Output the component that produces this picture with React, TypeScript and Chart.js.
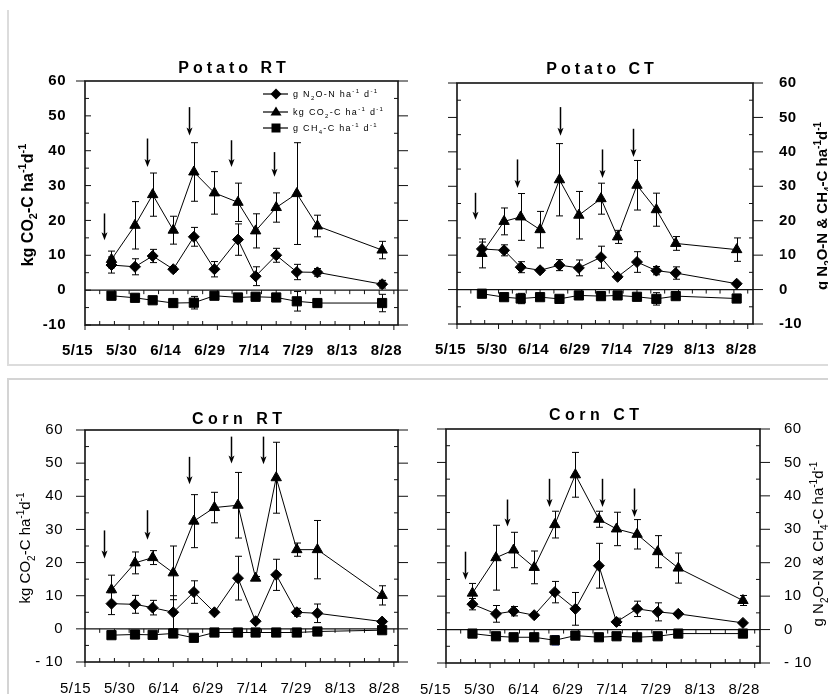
import React, { useEffect, useRef } from 'react';
import { Chart, registerables } from 'chart.js';

Chart.register(...registerables);

const FONT = "'Liberation Sans', Arial, Helvetica, sans-serif";

// ---------- data ----------
const sampleDates = ['5/24', '6/1', '6/7', '6/14', '6/21', '6/28', '7/6', '7/12', '7/19', '7/26', '8/2', '8/24'];
const xTickLabels = ['5/15', '5/30', '6/14', '6/29', '7/14', '7/29', '8/13', '8/28'];
const yTickValues = [-10, 0, 10, 20, 30, 40, 50, 60];

// Potato RT
const potatoRtN2o = [7.2, 6.7, 9.8, 6.0, 15.3, 6.0, 14.5, 4.0, 10.0, 5.2, 5.1, 1.7];
const potatoRtN2oErr = [2.3, 2.3, 1.9, 0.7, 2.7, 2.2, 4.5, 2.7, 2.0, 2.2, 1.1, 1.1];
const potatoRtCo2 = [8.8, 18.6, 27.4, 17.2, 33.9, 27.9, 25.2, 17.0, 23.7, 27.7, 18.4, 11.5];
const potatoRtCo2Err = [2.4, 6.8, 6.2, 4.0, 8.4, 6.1, 5.5, 4.9, 4.2, 14.6, 3.1, 2.5];
const potatoRtCh4 = [-1.6, -2.2, -2.9, -3.7, -3.6, -1.6, -2.1, -1.9, -2.1, -3.2, -3.7, -3.7];
const potatoRtCh4Err = [0.3, 0.3, 0.4, 1.0, 1.8, 0.3, 0.3, 0.4, 0.3, 2.8, 1.0, 2.5];
const potatoRtArrowDays = [6.6, 21, 35.3, 49.8, 64.2];
const potatoRtArrowTops = [22, 43.5, 52.5, 43, 39.6];
const potatoRtArrowTips = [14.3, 35.3, 44.4, 35.3, 32.5];

// Potato CT
const potatoCtN2o = [11.8, 11.4, 6.5, 5.6, 7.1, 6.3, 9.4, 3.7, 8.0, 5.5, 4.8, 1.7];
const potatoCtN2oErr = [2.0, 1.6, 1.6, 0.6, 1.6, 2.3, 3.2, 0.5, 3.0, 1.2, 1.8, 0.3];
const potatoCtCo2 = [10.5, 19.8, 21.1, 17.4, 31.9, 21.6, 26.4, 15.3, 30.3, 23.2, 13.4, 11.6];
const potatoCtCo2Err = [4.2, 3.9, 6.8, 5.3, 10.5, 6.9, 4.5, 1.9, 7.2, 4.8, 2.0, 3.4];
const potatoCtCh4 = [-1.2, -2.2, -2.6, -2.2, -2.7, -1.7, -1.9, -1.7, -2.1, -2.7, -1.9, -2.6];
const potatoCtCh4Err = [0.3, 0.3, 1.5, 0.3, 0.3, 0.3, 0.3, 0.3, 0.3, 1.8, 0.3, 0.3];
const potatoCtArrowDays = [6.5, 21.8, 37.1, 52.2, 63.6];
const potatoCtArrowTops = [28.1, 37.8, 53, 40.7, 46.7];
const potatoCtArrowTips = [20.3, 29.5, 44.7, 32.4, 38.5];

// Corn RT
const cornRtN2o = [7.6, 7.4, 6.4, 5.0, 11.1, 5.0, 15.3, 2.3, 16.3, 5.0, 4.7, 2.2];
const cornRtN2oErr = [3.3, 2.7, 2.2, 5.0, 3.4, 0.3, 6.6, 0.3, 4.7, 1.2, 2.8, 0.3];
const cornRtCo2 = [11.8, 19.9, 21.5, 16.9, 32.5, 36.6, 37.3, 15.3, 45.6, 23.9, 23.9, 10.1];
const cornRtCo2Err = [4.4, 3.3, 2.1, 8.1, 8.0, 4.6, 9.9, 0.5, 10.7, 2.0, 8.8, 2.9];
const cornRtCh4 = [-1.9, -1.7, -1.8, -1.4, -2.7, -1.1, -1.1, -1.1, -1.1, -1.1, -0.8, -0.4];
const cornRtCh4Err = [0.3, 0.3, 0.3, 1.0, 0.3, 0.3, 0.3, 0.3, 0.3, 0.3, 0.3, 0.3];
const cornRtArrowDays = [6.6, 21, 35.4, 49.6, 60.6];
const cornRtArrowTops = [29.7, 35.8, 51.9, 58, 58];
const cornRtArrowTips = [21.2, 26.9, 43.6, 49.9, 49.7];

// Corn CT
const cornCtN2o = [7.6, 4.7, 5.5, 4.3, 11.2, 6.2, 19.1, 2.3, 6.2, 5.3, 4.7, 2.0];
const cornCtN2oErr = [1.7, 2.5, 1.4, 0.3, 3.2, 4.9, 6.7, 1.1, 2.3, 2.7, 0.3, 0.3];
const cornCtCo2 = [10.9, 21.5, 23.8, 18.6, 31.4, 46.3, 33.0, 30.1, 28.5, 23.3, 18.4, 8.7];
const cornCtCo2Err = [2.9, 9.7, 5.3, 4.9, 4.0, 6.7, 2.4, 5.0, 4.4, 4.8, 4.5, 1.5];
const cornCtCh4 = [-1.2, -2.0, -2.3, -2.3, -3.2, -1.8, -2.3, -2.0, -2.3, -2.0, -1.2, -1.2];
const cornCtCh4Err = [0.3, 0.3, 1.0, 1.0, 1.4, 0.3, 1.0, 0.3, 1.0, 0.3, 0.3, 0.3];
const cornCtArrowDays = [6.4, 20.6, 35, 53.1, 63.9];
const cornCtArrowTops = [23.3, 38.9, 45.1, 45.1, 42.2];
const cornCtArrowTips = [14.9, 30.8, 36.7, 36.7, 33.7];

// text pieces: [text, kind] kind 0 normal, 1 superscript, -1 subscript
type Seg = [string, number];
const co2AxisTitle: Seg[] = [['kg CO', 0], ['2', -1], ['-C ha', 0], ['-1', 1], ['d', 0], ['-1', 1]];
const gasAxisTitle: Seg[] = [['g N', 0], ['2', -1], ['O-N & CH', 0], ['4', -1], ['-C ha', 0], ['-1', 1], ['d', 0], ['-1', 1]];
const legendN2o: Seg[] = [['g N', 0], ['2', -1], ['O-N ha', 0], ['-1', 1], [' d', 0], ['-1', 1]];
const legendCo2: Seg[] = [['kg CO', 0], ['2', -1], ['-C ha', 0], ['-1', 1], [' d', 0], ['-1', 1]];
const legendCh4: Seg[] = [['g CH', 0], ['4', -1], ['-C ha', 0], ['-1', 1], [' d', 0], ['-1', 1]];

// ---------- helpers ----------
const dayOf = (md: string) => {
  const [m, d] = md.split('/').map(Number);
  return Math.round((Date.UTC(2001, m - 1, d) - Date.UTC(2001, 4, 15)) / 86400000);
};
const sampleDays = sampleDates.map(dayOf);
const xTickDays = xTickLabels.map(dayOf);

function seg(ctx: CanvasRenderingContext2D, x1: number, y1: number, x2: number, y2: number) {
  ctx.beginPath();
  ctx.moveTo(x1, y1);
  ctx.lineTo(x2, y2);
  ctx.stroke();
}

function drawRich(ctx: CanvasRenderingContext2D, segs: Seg[], cx: number, cy: number, size: number, weight: string, rotate: boolean) {
  const small = Math.round(size * 0.68);
  ctx.save();
  ctx.translate(cx, cy);
  if (rotate) ctx.rotate(-Math.PI / 2);
  (ctx as any).letterSpacing = '0px';
  ctx.textAlign = 'left';
  ctx.textBaseline = 'alphabetic';
  const fontOf = (k: number) => `${weight} ${k ? small : size}px ${FONT}`;
  const widths = segs.map(([t, k]) => {
    ctx.font = fontOf(k);
    return ctx.measureText(t).width;
  });
  const total = widths.reduce((a, b) => a + b, 0);
  let x = -total / 2;
  const base = size * 0.36;
  segs.forEach(([t, k], i) => {
    ctx.font = fontOf(k);
    const dy = k === 1 ? -size * 0.42 : k === -1 ? size * 0.28 : 0;
    ctx.fillText(t, x, base + dy);
    x += widths[i];
  });
  ctx.restore();
}

function drawRichLeft(ctx: CanvasRenderingContext2D, segs: Seg[], x0: number, baseline: number, size: number) {
  const small = Math.round(size * 0.72);
  ctx.save();
  (ctx as any).letterSpacing = '1.3px';
  ctx.textAlign = 'left';
  ctx.textBaseline = 'alphabetic';
  let x = x0;
  segs.forEach(([t, k]) => {
    ctx.font = `${k ? small : size}px ${FONT}`;
    const dy = k === 1 ? -size * 0.42 : k === -1 ? size * 0.28 : 0;
    ctx.fillText(t, x, baseline + dy);
    x += ctx.measureText(t).width;
  });
  ctx.restore();
}

function marker(ctx: CanvasRenderingContext2D, kind: string, x: number, y: number) {
  ctx.beginPath();
  if (kind === 'diamond') {
    ctx.moveTo(x - 5.5, y); ctx.lineTo(x, y - 5.5); ctx.lineTo(x + 5.5, y); ctx.lineTo(x, y + 5.5);
  } else if (kind === 'triangle') {
    ctx.moveTo(x, y - 5.5); ctx.lineTo(x + 5.5, y + 3.5); ctx.lineTo(x - 5.5, y + 3.5);
  } else {
    ctx.rect(x - 4.5, y - 4.5, 9, 9);
  }
  ctx.closePath();
  ctx.fill();
}

interface Panel {
  left: number; top: number; w: number; h: number;
  area: { l: number; r: number; t: number; b: number };
  xMax: number;
  bold: boolean;
  labelsRight: boolean;
  yPad: number; xPad: number; xLabelOffset: number;
  leftMajorOut: boolean;
  minusSpace: boolean;
  title: string; titleX: number; titleY: number; titleSpacing: number;
  yTitle: Seg[]; yTitleX: number; yTitleY: number; yTitleSize: number;
  legend: boolean;
  n2o: number[]; n2oErr: number[]; co2: number[]; co2Err: number[]; ch4: number[]; ch4Err: number[];
  ch4ErrColor: string;
  arrowDays: number[]; arrowTops: number[]; arrowTips: number[];
}

const panels: Panel[] = [
  {
    left: 0, top: 0, w: 414, h: 362, area: { l: 85, r: 398, t: 81, b: 325 }, xMax: 106.4,
    bold: true, labelsRight: false, yPad: 19, xPad: 17, xLabelOffset: -7.5, leftMajorOut: false, minusSpace: false,
    title: 'Potato RT', titleX: 232, titleY: 73, titleSpacing: 4,
    yTitle: co2AxisTitle, yTitleX: 27, yTitleY: 205, yTitleSize: 16, legend: true,
    n2o: potatoRtN2o, n2oErr: potatoRtN2oErr, co2: potatoRtCo2, co2Err: potatoRtCo2Err, ch4: potatoRtCh4, ch4Err: potatoRtCh4Err,
    ch4ErrColor: '#000', arrowDays: potatoRtArrowDays, arrowTops: potatoRtArrowTops, arrowTips: potatoRtArrowTips,
  },
  {
    left: 414, top: 0, w: 414, h: 362, area: { l: 43, r: 339, t: 83, b: 324 }, xMax: 106.9,
    bold: true, labelsRight: true, yPad: 26, xPad: 17, xLabelOffset: -6.5, leftMajorOut: true, minusSpace: false,
    title: 'Potato CT', titleX: 186, titleY: 74, titleSpacing: 4,
    yTitle: gasAxisTitle, yTitleX: 408, yTitleY: 206, yTitleSize: 15, legend: false,
    n2o: potatoCtN2o, n2oErr: potatoCtN2oErr, co2: potatoCtCo2, co2Err: potatoCtCo2Err, ch4: potatoCtCh4, ch4Err: potatoCtCh4Err,
    ch4ErrColor: '#000', arrowDays: potatoCtArrowDays, arrowTops: potatoCtArrowTops, arrowTips: potatoCtArrowTips,
  },
  {
    left: 0, top: 380, w: 414, h: 314, area: { l: 85, r: 398, t: 50, b: 282 }, xMax: 106.4,
    bold: false, labelsRight: false, yPad: 22, xPad: 18, xLabelOffset: -9.5, leftMajorOut: true, minusSpace: true,
    title: 'Corn RT', titleX: 237, titleY: 44, titleSpacing: 4.5,
    yTitle: co2AxisTitle, yTitleX: 25, yTitleY: 168, yTitleSize: 15, legend: false,
    n2o: cornRtN2o, n2oErr: cornRtN2oErr, co2: cornRtCo2, co2Err: cornRtCo2Err, ch4: cornRtCh4, ch4Err: cornRtCh4Err,
    ch4ErrColor: '#000', arrowDays: cornRtArrowDays, arrowTops: cornRtArrowTops, arrowTips: cornRtArrowTips,
  },
  {
    left: 414, top: 380, w: 414, h: 314, area: { l: 32, r: 346, t: 49, b: 283 }, xMax: 106.8,
    bold: false, labelsRight: true, yPad: 24, xPad: 18, xLabelOffset: -10.5, leftMajorOut: true, minusSpace: true,
    title: 'Corn CT', titleX: 180, titleY: 40, titleSpacing: 4.5,
    yTitle: gasAxisTitle, yTitleX: 404, yTitleY: 164, yTitleSize: 15, legend: false,
    n2o: cornCtN2o, n2oErr: cornCtN2oErr, co2: cornCtCo2, co2Err: cornCtCo2Err, ch4: cornCtCh4, ch4Err: cornCtCh4Err,
    ch4ErrColor: '#1f3fd0', arrowDays: cornCtArrowDays, arrowTops: cornCtArrowTops, arrowTips: cornCtArrowTips,
  },
];

function makeChart(canvas: HTMLCanvasElement, p: Panel) {
  const tickFont = { family: FONT, size: 15, weight: p.bold ? 'bold' : 'normal' } as any;
  const fmtY = (v: any) => {
    const n = Number(v);
    if (n < 0) return (p.minusSpace ? '- ' : '-') + Math.abs(n);
    return String(n);
  };
  const yScale = (pos: 'left' | 'right', show: boolean, width: number) => ({
    type: 'linear', position: pos, min: -10, max: 60,
    afterBuildTicks: (s: any) => { s.ticks = yTickValues.map((v) => ({ value: v })); },
    afterFit: (s: any) => { s.width = width; s.paddingTop = 0; s.paddingBottom = 0; },
    grid: { display: false, drawTicks: false },
    border: { display: false },
    ticks: { display: show, padding: p.yPad, color: '#000', font: tickFont, callback: fmtY },
  });

  const ds = (label: string, vals: number[], style: string, radius: number) => ({
    label,
    data: sampleDays.map((d, i) => ({ x: d, y: vals[i] })),
    borderColor: '#000', backgroundColor: '#000', borderWidth: 1,
    pointStyle: style, pointRadius: radius, pointBorderWidth: 1,
    pointBackgroundColor: '#000', pointBorderColor: '#000',
    showLine: true, tension: 0, fill: false,
  });

  const errSets = [
    { vals: p.n2o, err: p.n2oErr, color: '#000' },
    { vals: p.co2, err: p.co2Err, color: '#000' },
    { vals: p.ch4, err: p.ch4Err, color: p.ch4ErrColor },
  ];

  const decor = {
    id: 'decor',
    beforeDraw(chart: any) {
      chart.ctx.letterSpacing = '0.5px';
    },
    beforeDatasetsDraw(chart: any) {
      const { ctx, chartArea: a } = chart;
      const xs = chart.scales.x, ys = chart.scales.y;
      ctx.save();
      ctx.letterSpacing = '0px';
      // frame
      ctx.strokeStyle = '#111';
      ctx.lineWidth = 1.6;
      ctx.strokeRect(a.left, a.top, a.right - a.left, a.bottom - a.top);
      const y0 = ys.getPixelForValue(0);
      ctx.lineWidth = 1.2;
      seg(ctx, a.left, y0, a.right, y0);
      ctx.lineWidth = 1;
      for (let v = -10; v <= 60; v += 5) {
        const py = ys.getPixelForValue(v);
        if (v % 10 === 0) {
          if (p.leftMajorOut || v === 60) seg(ctx, a.left - 9, py, a.left, py);
          else seg(ctx, a.left, py, a.left + 6, py);
          seg(ctx, a.right, py, a.right + 10, py);
        } else {
          seg(ctx, a.left, py, a.left + 4, py);
          seg(ctx, a.right - 4, py, a.right, py);
        }
      }
      for (let d = 0; d <= p.xMax; d += 5) {
        const px = xs.getPixelForValue(d);
        if (d % 15 === 0) seg(ctx, px, a.bottom, px, a.bottom + 5);
        else seg(ctx, px, a.bottom - 4, px, a.bottom);
        if (d > 0 && d < p.xMax - 1) seg(ctx, px, y0, px, y0 + 4);
      }
      // error bars
      errSets.forEach((s) => {
        ctx.strokeStyle = s.color;
        ctx.lineWidth = 1;
        s.vals.forEach((v, i) => {
          const e = s.err[i];
          const px = Math.round(xs.getPixelForValue(sampleDays[i])) + 0.5;
          const t = ys.getPixelForValue(v + e);
          const b = ys.getPixelForValue(v - e);
          seg(ctx, px, t, px, b);
          seg(ctx, px - 3.5, t, px + 3.5, t);
          seg(ctx, px - 3.5, b, px + 3.5, b);
        });
      });
      ctx.restore();
    },
    afterDatasetsDraw(chart: any) {
      const { ctx } = chart;
      const xs = chart.scales.x, ys = chart.scales.y;
      ctx.save();
      ctx.strokeStyle = '#000';
      ctx.fillStyle = '#000';
      p.arrowDays.forEach((d, i) => {
        const px = Math.round(xs.getPixelForValue(d)) + 0.5;
        const t = ys.getPixelForValue(p.arrowTops[i]);
        const b = ys.getPixelForValue(p.arrowTips[i]);
        ctx.lineWidth = 1.5;
        seg(ctx, px, t, px, b - 6);
        ctx.beginPath();
        ctx.moveTo(px, b);
        ctx.lineTo(px - 3, b - 8);
        ctx.lineTo(px, b - 6);
        ctx.lineTo(px + 3, b - 8);
        ctx.closePath();
        ctx.fill();
      });
      ctx.restore();
    },
    afterDraw(chart: any) {
      const ctx = chart.ctx as CanvasRenderingContext2D;
      ctx.save();
      ctx.fillStyle = '#000';
      (ctx as any).letterSpacing = p.titleSpacing + 'px';
      ctx.font = `bold 16px ${FONT}`;
      ctx.textAlign = 'center';
      ctx.textBaseline = 'alphabetic';
      ctx.fillText(p.title, p.titleX + p.titleSpacing / 2, p.titleY);
      drawRich(ctx, p.yTitle, p.yTitleX, p.yTitleY, p.yTitleSize, p.bold ? 'bold' : 'normal', true);
      if (p.legend) {
        const rows: [Seg[], string, number][] = [[legendN2o, 'diamond', 94], [legendCo2, 'triangle', 112], [legendCh4, 'square', 128]];
        ctx.strokeStyle = '#000';
        ctx.lineWidth = 1.2;
        rows.forEach(([segs, kind, y]) => {
          seg(ctx, 263, y, 288, y);
          marker(ctx, kind, 276, y);
          drawRichLeft(ctx, segs, 293, y + 3, 9);
        });
      }
      ctx.restore();
    },
  };

  return new Chart(canvas, {
    type: 'line',
    data: {
      datasets: [
        ds('g N2O-N ha-1 d-1', p.n2o, 'rectRot', 5.5),
        ds('kg CO2-C ha-1 d-1', p.co2, 'triangle', 6),
        ds('g CH4-C ha-1 d-1', p.ch4, 'rect', 6.5),
      ] as any,
    },
    options: {
      animation: false,
      responsive: false,
      maintainAspectRatio: false,
      events: [],
      layout: { padding: { top: p.area.t, left: 0, right: 0, bottom: 0 } },
      plugins: { legend: { display: false }, tooltip: { enabled: false }, title: { display: false } },
      scales: {
        x: {
          type: 'linear', position: 'bottom', min: 0, max: p.xMax,
          afterBuildTicks: (s: any) => { s.ticks = xTickDays.map((v) => ({ value: v })); },
          afterFit: (s: any) => { s.height = p.h - p.area.b; s.paddingLeft = 0; s.paddingRight = 0; },
          grid: { display: false, drawTicks: false },
          border: { display: false },
          ticks: {
            autoSkip: false, maxRotation: 0, minRotation: 0, padding: p.xPad, labelOffset: p.xLabelOffset,
            color: '#000', font: tickFont,
            callback: (v: any) => {
              const i = xTickDays.indexOf(Number(v));
              return i >= 0 ? xTickLabels[i] : '';
            },
          },
        },
        y: yScale('left', !p.labelsRight, p.area.l),
        y2: yScale('right', p.labelsRight, p.w - p.area.r),
      } as any,
    },
    plugins: [decor as any],
  });
}

function PanelChart({ p }: { p: Panel }) {
  const ref = useRef<HTMLCanvasElement>(null);
  useEffect(() => {
    const chart = makeChart(ref.current!, p);
    return () => chart.destroy();
  }, [p]);
  return (
    <canvas
      ref={ref}
      width={p.w}
      height={p.h}
      style={{ position: 'absolute', left: p.left, top: p.top, width: p.w, height: p.h }}
    />
  );
}

export default function App() {
  return (
    <div style={{ position: 'absolute', left: 0, top: 0, width: 828, height: 694, background: '#fff', overflow: 'hidden' }}>
      <div style={{ position: 'absolute', left: 7, top: 10, width: 2, height: 356, background: '#dcdcdc' }} />
      <div style={{ position: 'absolute', left: 7, top: 364, width: 821, height: 2, background: '#dcdcdc' }} />
      <div style={{ position: 'absolute', left: 7, top: 378, width: 821, height: 2, background: '#d4d4d4' }} />
      <div style={{ position: 'absolute', left: 7, top: 378, width: 2, height: 316, background: '#d4d4d4' }} />
      {panels.map((p, i) => (
        <PanelChart key={i} p={p} />
      ))}
    </div>
  );
}
